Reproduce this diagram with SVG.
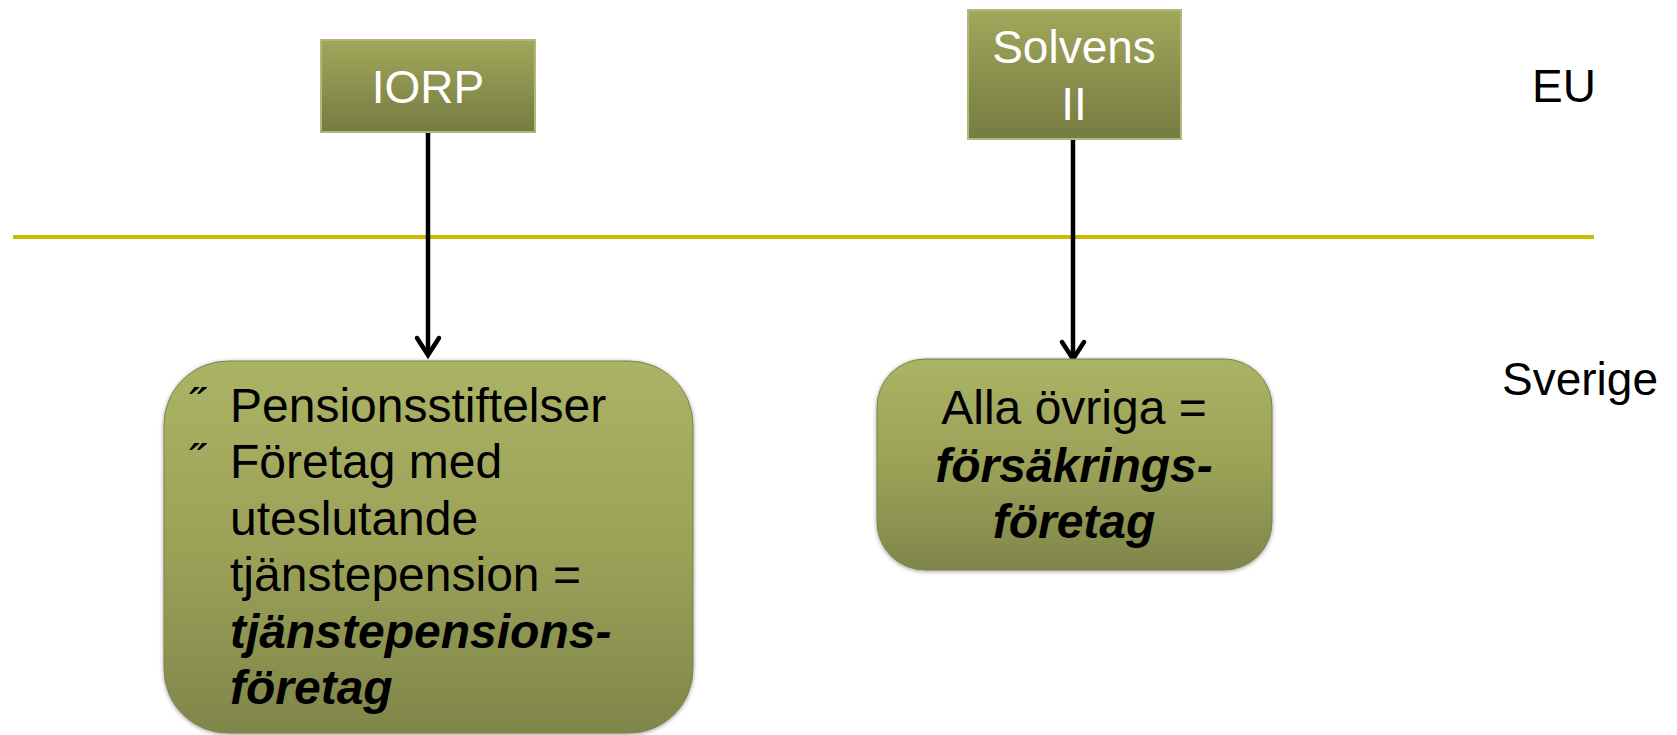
<svg xmlns="http://www.w3.org/2000/svg" width="1677" height="735" viewBox="0 0 1677 735">
<defs>
<linearGradient id="gTop" x1="0" y1="0" x2="0" y2="1">
<stop offset="0" stop-color="#a1a75b"/>
<stop offset="1" stop-color="#757c40"/>
</linearGradient>
<linearGradient id="gBot" x1="0" y1="0" x2="0" y2="1">
<stop offset="0" stop-color="#abb365"/>
<stop offset="0.5" stop-color="#9ba258"/>
<stop offset="1" stop-color="#80864a"/>
</linearGradient>
<filter id="sh" x="-10%" y="-10%" width="120%" height="120%">
<feGaussianBlur in="SourceAlpha" stdDeviation="2"/>
<feOffset dx="0" dy="1"/>
<feComponentTransfer><feFuncA type="linear" slope="0.4"/></feComponentTransfer>
<feMerge><feMergeNode/><feMergeNode in="SourceGraphic"/></feMerge>
</filter>
</defs>
<style>
.top{fill:url(#gTop);stroke:#b3b77c;stroke-width:2}
.bot{fill:url(#gBot);stroke:#7d8247;stroke-width:1;filter:url(#sh)}
.wt{font-family:"Liberation Sans",Arial,sans-serif;font-size:46px;fill:#ffffff;text-anchor:middle}
.bt{font-family:"Liberation Sans",Arial,sans-serif;font-size:48px;fill:#000000}
.bi{font-weight:bold;font-style:italic}
.lbl{font-family:"Liberation Sans",Arial,sans-serif;font-size:46px;fill:#000000}
.bul{font-family:"Liberation Sans",Arial,sans-serif;font-size:46px;fill:#000000}
.conn{stroke:#000;stroke-width:4.5;fill:none}
.head{stroke:#000;stroke-width:4.5;fill:none;stroke-linecap:round;stroke-linejoin:miter}
</style>
<line x1="13" y1="237" x2="1594" y2="237" stroke="#c9bc00" stroke-width="4"/>
<g id="labels">
<text class="lbl" x="1532" y="102">EU</text>
<text class="lbl" x="1502" y="395">Sverige</text>
</g>
<g id="connectors">
<line class="conn" x1="428" y1="132" x2="428" y2="354"/>
<polyline class="head" points="417,338 428,355 439,338"/>
<line class="conn" x1="1073" y1="139" x2="1073" y2="358"/>
<polyline class="head" points="1062,342 1073,359 1084,342"/>
</g>
<g id="iorp">
<rect class="top" x="321" y="40" width="214" height="92"/>
<text class="wt" x="428" y="103">IORP</text>
</g>
<g id="solvens">
<rect class="top" x="968" y="10" width="213" height="129"/>
<text class="wt" x="1074" y="63">Solvens</text>
<text class="wt" x="1074" y="120">II</text>
</g>
<g id="tjanstepension">
<rect class="bot" x="164" y="361" width="529" height="372" rx="64" ry="64"/>
<text class="bul" x="189" y="421">˝</text>
<text class="bul" x="189" y="477">˝</text>
<text class="bt" x="230" y="422">Pensionsstiftelser</text>
<text class="bt" x="230" y="478">Företag med</text>
<text class="bt" x="230" y="535">uteslutande</text>
<text class="bt" x="230" y="591">tjänstepension =</text>
<text class="bt bi" x="230" y="648">tjänstepensions-</text>
<text class="bt bi" x="230" y="704">företag</text>
</g>
<g id="forsakring">
<rect class="bot" x="877" y="359" width="395" height="211" rx="48" ry="48"/>
<text class="bt" x="1074" y="424" text-anchor="middle">Alla övriga =</text>
<text class="bt bi" x="1074" y="482" text-anchor="middle">försäkrings-</text>
<text class="bt bi" x="1074" y="538" text-anchor="middle">företag</text>
</g>
</svg>
